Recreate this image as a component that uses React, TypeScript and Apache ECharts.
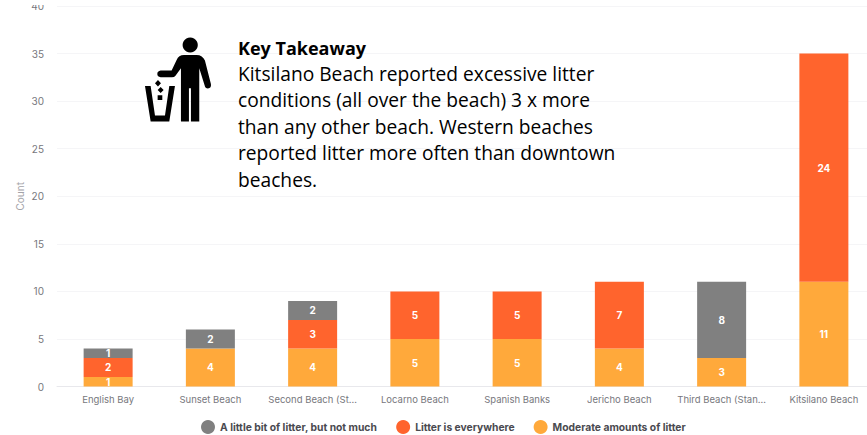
import React, { useEffect, useRef } from "react";
import * as echarts from "echarts";

const categories = ["English Bay", "Sunset Beach", "Second Beach (St…", "Locarno Beach", "Spanish Banks", "Jericho Beach", "Third Beach (Stan…", "Kitsilano Beach"];
const moderate = [1, 4, 4, 5, 5, 4, 3, 11];
const everywhere = [2, null, 3, 5, 5, 7, null, 24];
const littleBit = [1, 2, 2, null, null, null, 8, null];
const totals = [4, 6, 9, 10, 10, 11, 11, 35];
const takeawayLines = [
  "Kitsilano Beach reported excessive litter",
  "conditions (all over the beach) 3 x more",
  "than any other beach. Western beaches",
  "reported litter more often than downtown",
  "beaches.",
];

const ICON =
  "M92 212 L125 212 L140 180 Q146 165 162 165 L200 165 Q218 165 225 182 L243 252 Q245 264 234 266 Q226 266 224 256 L208 205 L208 365 L183 365 L183 265 L177 265 L177 365 L153 365 L153 205 L136 228 Q133 232 126 232 L92 232 Q82 230 82 222 Q82 214 92 212 Z " +
  "M45 258 L62 258 L75 347 L105 347 L118 258 L135 258 L118 365 L62 365 Z " +
  "M84 240 L93 250 L84 260 L75 250 Z M92 261 L101 270 L92 279 L83 270 Z M83 286 L97 286 L97 300 L83 300 Z";

echarts.graphic.registerShape("litterIconPath", echarts.graphic.extendPath(ICON, {}) as any);

const FONT = "Inter, 'Noto Sans', sans-serif";

function barSeries(name: string, data: (number | null)[], color: string) {
  return {
    name,
    type: "bar",
    stack: "total",
    data,
    barWidth: 49,
    itemStyle: { color },
    label: { show: true, position: "inside", color: "#fff", fontFamily: FONT, fontSize: 10, fontWeight: 700 },
  };
}

export default function App() {
  const ref = useRef<HTMLDivElement>(null);
  useEffect(() => {
    const chart = echarts.init(ref.current!, null, { renderer: "svg" });
    chart.setOption({
      animation: false,
      backgroundColor: "#fff",
      grid: { left: 57, top: 6, width: 818, height: 380.5, containLabel: false, outerBoundsMode: "none" },
      legend: {
        data: ["A little bit of litter, but not much", "Litter is everywhere", "Moderate amounts of litter"],
        left: 196,
        top: 415,
        icon: "circle",
        itemWidth: 14,
        itemHeight: 14,
        itemGap: 19,
        textStyle: { fontFamily: FONT, fontSize: 10.3, fontWeight: 700, color: "#4a4a50" },
      },
      xAxis: {
        type: "category",
        data: categories,
        axisTick: { show: false },
        axisLine: { lineStyle: { color: "#e8e8ec" } },
        axisLabel: { color: "#77777d", fontFamily: FONT, fontSize: 9.5, margin: 8, interval: 0, hideOverlap: false },
      },
      yAxis: {
        type: "value",
        min: 0,
        max: 40,
        interval: 5,
        name: "Count",
        nameLocation: "middle",
        nameGap: 32,
        nameMoveOverlap: false,
        nameTextStyle: { color: "#a3a3a8", fontFamily: FONT, fontSize: 10 },
        axisLabel: { color: "#77777d", fontFamily: FONT, fontSize: 10, margin: 13 },
        splitLine: { lineStyle: { color: "#f5f5f7" } },
      },
      series: [
        barSeries("Moderate amounts of litter", moderate, "#FFA93B"),
        barSeries("Litter is everywhere", everywhere, "#FF642D"),
        barSeries("A little bit of litter, but not much", littleBit, "#808080"),
        {
          name: "Total",
          type: "line",
          data: totals,
          symbol: "none",
          lineStyle: { opacity: 0 },
          label: { show: true, position: "top", distance: 4, color: "#2b2b30", fontFamily: FONT, fontSize: 10, fontWeight: 700 },
        },
      ],
      graphic: [
        { type: "rect", silent: true, z: 100, shape: { x: 0, y: 0, width: 867, height: 5 }, style: { fill: "#fff" } },
        { type: "circle", z: 100, shape: { cx: 190.2, cy: 45, r: 7.6 }, style: { fill: "#000" } },
        { type: "litterIconPath", z: 100, x: 130, y: 0, scaleX: 1 / 3, scaleY: 1 / 3, style: { fill: "#000" } },
        {
          type: "text", z: 100, x: 238, y: 39,
          style: { text: "Key Takeaway", fontFamily: "'Open Sans', sans-serif", fontSize: 18, fontWeight: 700, fill: "#000" },
        },
        ...takeawayLines.map((text, i) => ({
          type: "text", z: 100, x: 238, y: 63.5 + i * 26.5,
          style: { text, fontFamily: "'Open Sans', sans-serif", fontSize: 19.2, fill: "#000" },
        })),
      ],
    });
    return () => chart.dispose();
  }, []);
  return <div ref={ref} style={{ width: 867, height: 435, position: "absolute", left: 0, top: 0 }} />;
}
